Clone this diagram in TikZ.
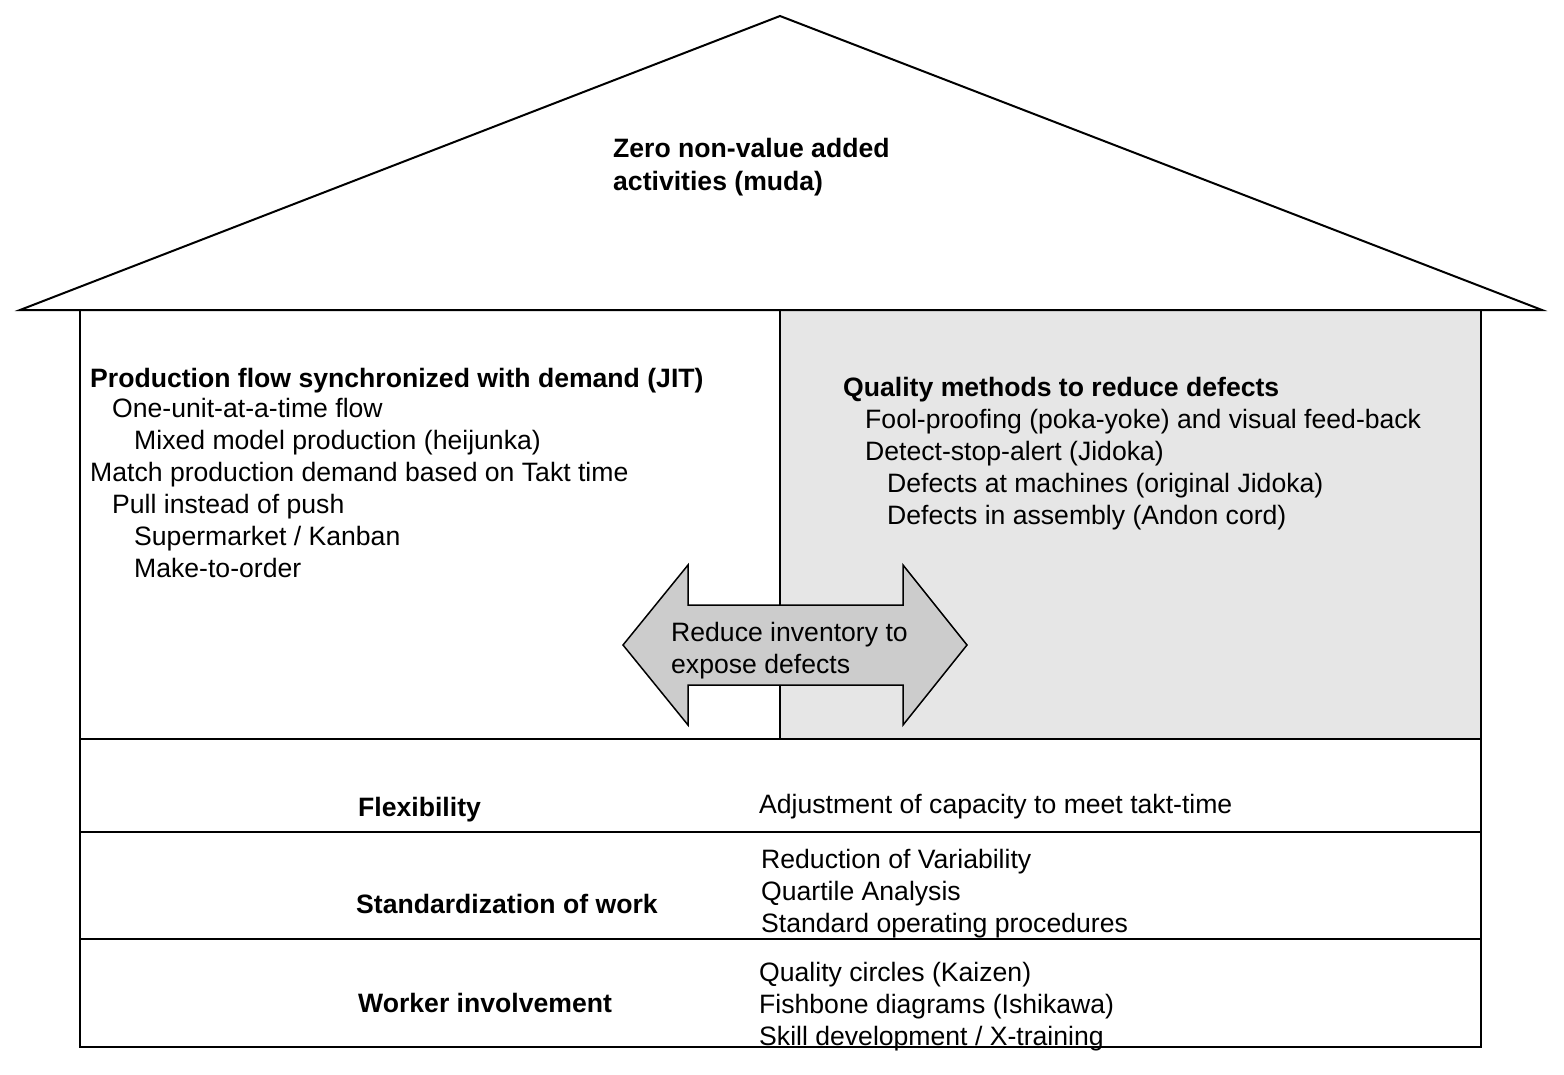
\documentclass[tikz,border=0pt]{standalone}
\usepackage{fontspec}
\setmainfont{Liberation Sans}
\definecolor{qualgray}{HTML}{E6E6E6}
\definecolor{arrowgray}{HTML}{CCCCCC}
\begin{document}
\begin{tikzpicture}[x=1pt,y=-1pt,
  txt/.style={anchor=base west,inner sep=0pt,font=\fontsize{26.6}{32}\selectfont},
  btxt/.style={txt,font=\fontsize{26.6}{32}\selectfont\bfseries},
  frame/.style={draw=black,line width=2pt}]
\useasboundingbox (0,0) rectangle (1564,1074);
% quality area
\fill[qualgray] (780,310) rectangle (1481,739);
% roof
\draw[frame,line join=miter] (20,310) -- (780,16) -- (1542,310) -- cycle;
% house body
\draw[frame] (80,310) rectangle (1481,1047);
\draw[frame] (780,310) -- (780,739);
\draw[frame] (80,739) -- (1481,739);
\draw[frame] (80,832) -- (1481,832);
\draw[frame] (80,939) -- (1481,939);
% double arrow
\draw[line width=1.5pt,fill=arrowgray,line join=miter]
  (623,645) -- (688,565) -- (688,605) -- (903,605) -- (903,565) -- (967,645)
  -- (903,725) -- (903,685) -- (688,685) -- (688,725) -- cycle;
\node[txt] (ar1) at (671,641) {Reduce inventory to};
\node[txt] (ar2) at (671,673) {expose defects};
% roof text
\node[btxt] (roof1) at (613,157) {Zero non-value added};
\node[btxt] (roof2) at (613,190) {activities (muda)};
% left block
\node[btxt] (jit) at (90,387) {Production flow synchronized with demand (JIT)};
\node[txt] (l1) at (112,417) {One-unit-at-a-time flow};
\node[txt] (l2) at (134,449) {Mixed model production (heijunka)};
\node[txt] (l3) at (90,481) {Match production demand based on Takt time};
\node[txt] (l4) at (112,513) {Pull instead of push};
\node[txt] (l5) at (134,545) {Supermarket / Kanban};
\node[txt] (l6) at (134,577) {Make-to-order};
% right block
\node[btxt] (qual) at (843,396) {Quality methods to reduce defects};
\node[txt] (r1) at (865,428) {Fool-proofing (poka-yoke) and visual feed-back};
\node[txt] (r2) at (865,460) {Detect-stop-alert (Jidoka)};
\node[txt] (r3) at (887,492) {Defects at machines (original Jidoka)};
\node[txt] (r4) at (887,524) {Defects in assembly (Andon cord)};
% foundation rows
\node[btxt] (flex) at (358,816) {Flexibility};
\node[txt] (flex1) at (759,813) {Adjustment of capacity to meet takt-time};
\node[btxt] (std) at (356,913) {Standardization of work};
\node[txt] (std1) at (761,868) {Reduction of Variability};
\node[txt] (std2) at (761,900) {Quartile Analysis};
\node[txt] (std3) at (761,932) {Standard operating procedures};
\node[btxt] (wrk) at (358,1012) {Worker involvement};
\node[txt] (wrk1) at (759,981) {Quality circles (Kaizen)};
\node[txt] (wrk2) at (759,1013) {Fishbone diagrams (Ishikawa)};
\node[txt] (wrk3) at (759,1045) {Skill development / X-training};
\end{tikzpicture}
\end{document}
